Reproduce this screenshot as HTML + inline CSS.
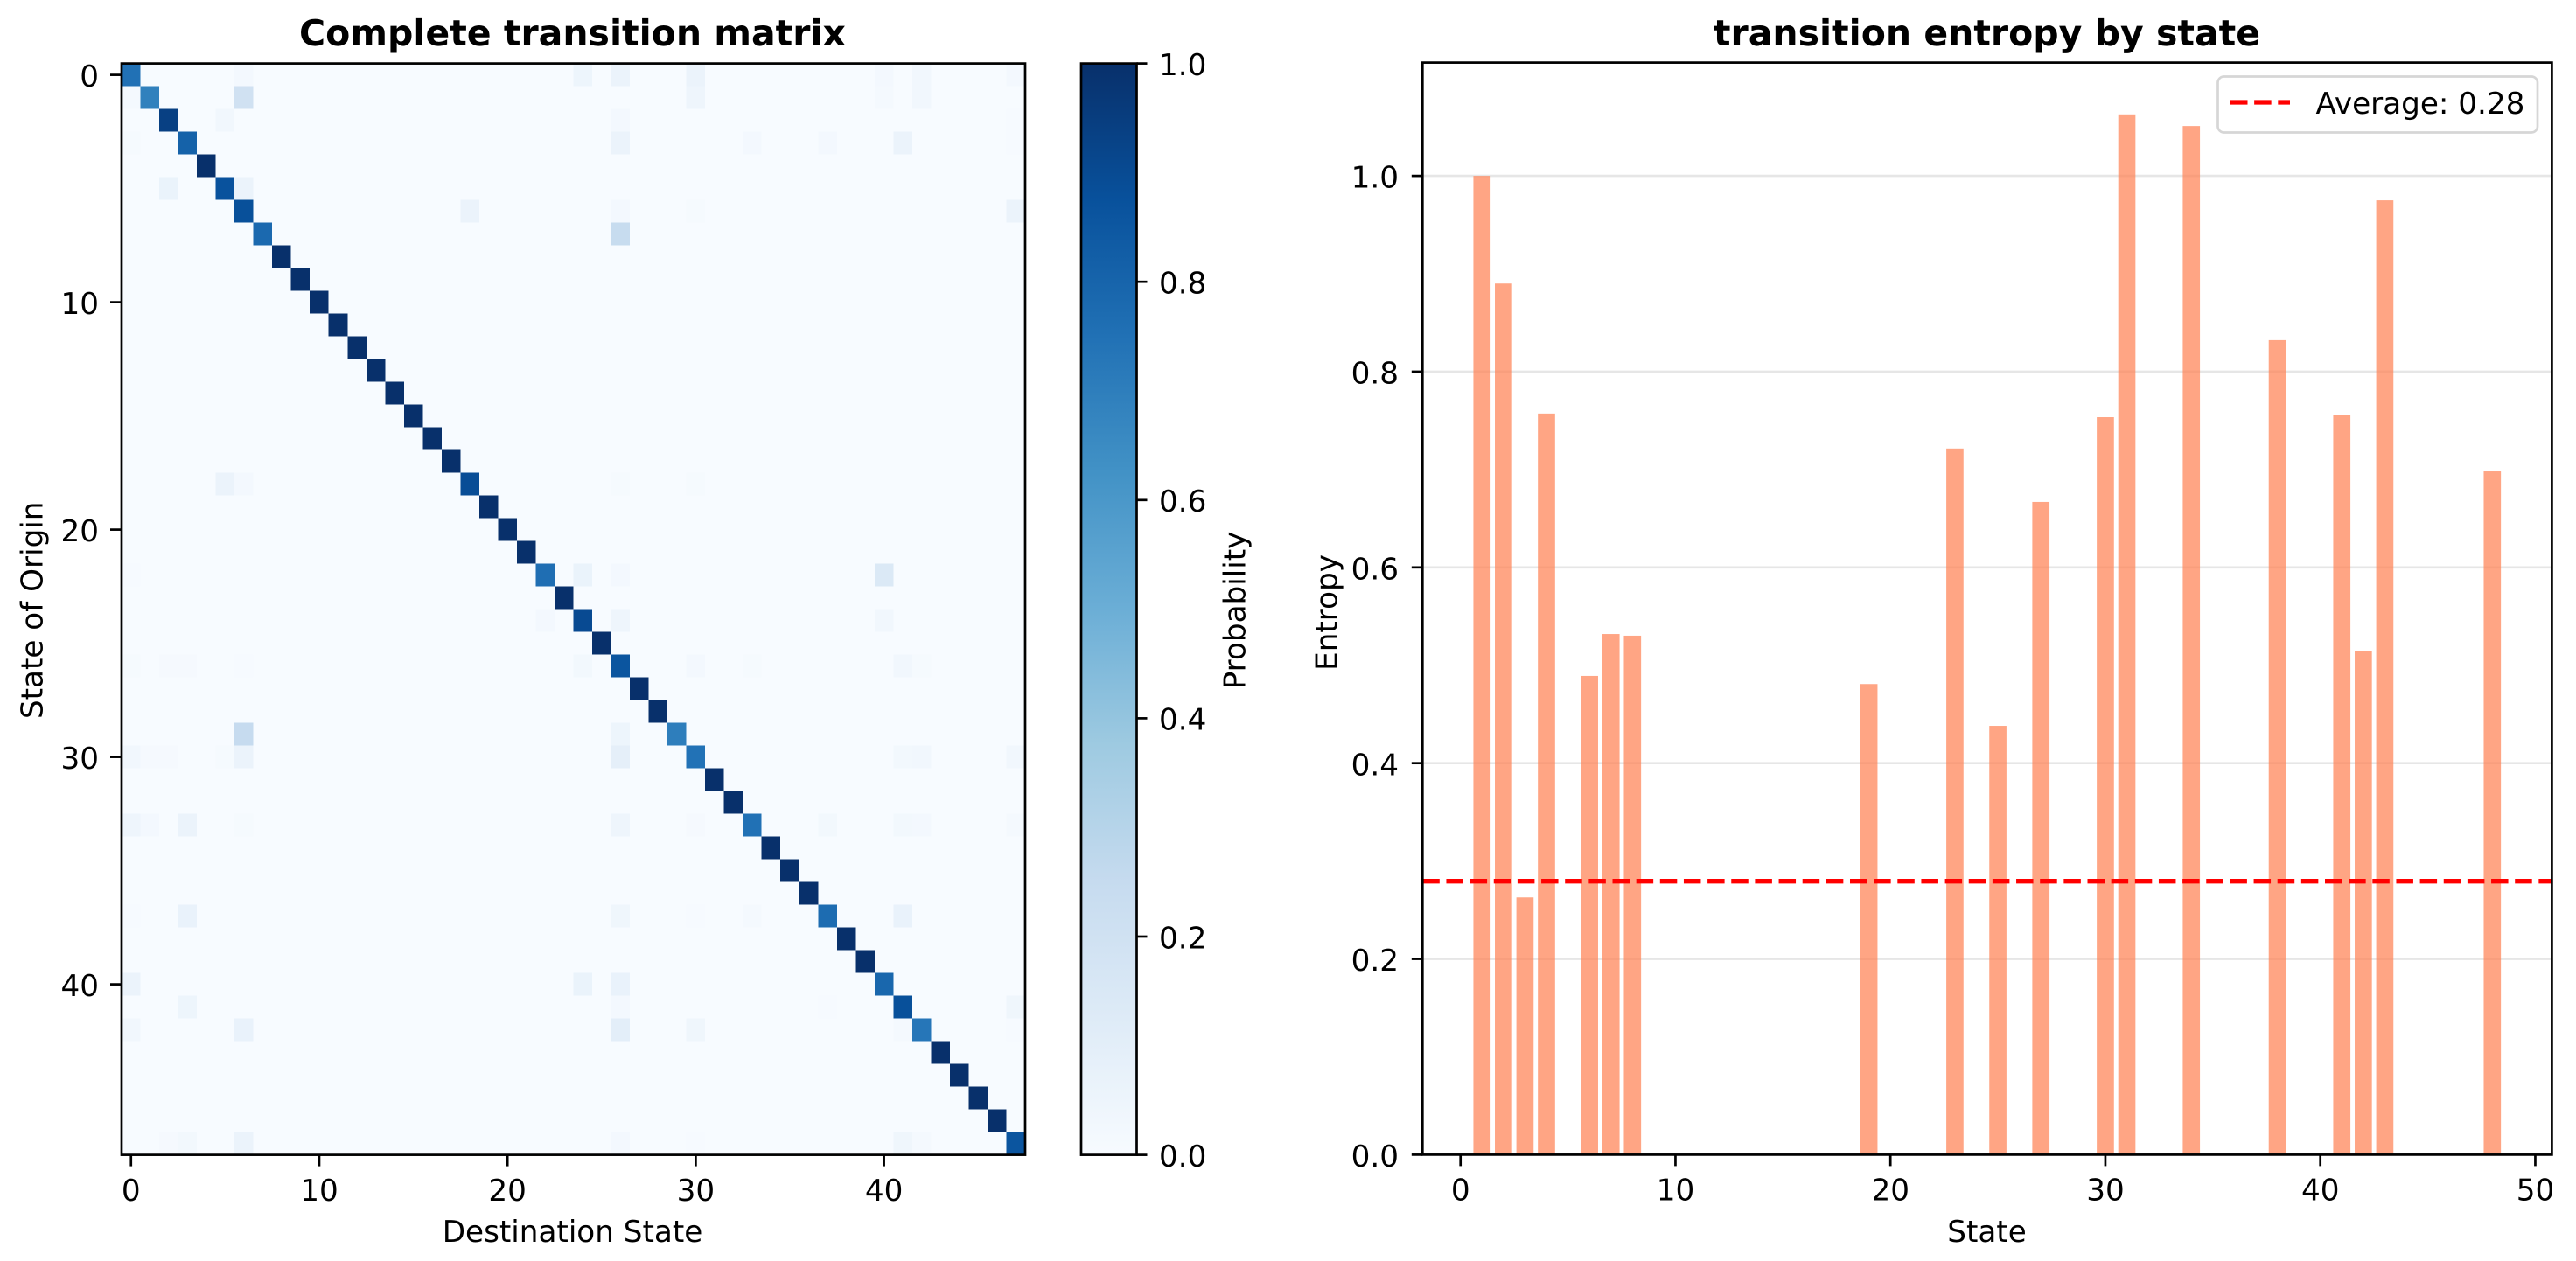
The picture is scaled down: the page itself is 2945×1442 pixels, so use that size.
<!DOCTYPE html>
<html lang="en">
<head>
<meta charset="utf-8">
<title>Transition matrix and entropy</title>
<style>
  html, body { margin: 0; padding: 0; background: #fff; }
  svg { display: block; }
  text { font-family: "DejaVu Sans", "Liberation Sans", sans-serif; font-size: 34.2px; fill: #000; text-rendering: geometricPrecision; }
  .title { font-size: 41px; font-weight: bold; text-anchor: middle; }
  .axis-title { text-anchor: middle; }
</style>
</head>
<body>
<svg id="figure" xmlns="http://www.w3.org/2000/svg" width="2945" height="1442" viewBox="0 0 2945 1442">
  <defs>
    <linearGradient id="blues-gradient" x1="0" y1="1" x2="0" y2="0">
      <stop offset="0" stop-color="#f7fbff"/>
      <stop offset="0.125" stop-color="#deebf7"/>
      <stop offset="0.25" stop-color="#c6dbef"/>
      <stop offset="0.375" stop-color="#9ecae1"/>
      <stop offset="0.5" stop-color="#6baed6"/>
      <stop offset="0.625" stop-color="#4292c6"/>
      <stop offset="0.75" stop-color="#2171b5"/>
      <stop offset="0.875" stop-color="#08519c"/>
      <stop offset="1" stop-color="#08306b"/>
    </linearGradient>
  </defs>
  <rect x="0" y="0" width="2945" height="1442" fill="#ffffff"/>

  <g id="heatmap-panel">
    <text class="title" x="654.5" y="52">Complete transition matrix</text>
    <rect x="139" y="72.6" width="1033" height="1248" fill="#f7fbff"/>
    <g id="heatmap-cells" shape-rendering="crispEdges"></g>
    <g id="heatmap-ticks"></g>
    <rect x="139" y="72.6" width="1033" height="1248" fill="none" stroke="#000" stroke-width="2.7"/>
    <text class="axis-title" x="654.5" y="1420">Destination State</text>
    <text class="axis-title" transform="translate(48.6 697.8) rotate(-90)">State of Origin</text>
  </g>

  <g id="colorbar-panel">
    <rect x="1236" y="72.6" width="63.5" height="1248" fill="url(#blues-gradient)"/>
    <g id="colorbar-ticks"></g>
    <rect x="1236" y="72.6" width="63.5" height="1248" fill="none" stroke="#000" stroke-width="2.7"/>
    <text class="axis-title" transform="translate(1423.5 698) rotate(-90)">Probability</text>
  </g>

  <g id="entropy-panel">
    <text class="title" x="2271.5" y="52">transition entropy by state</text>
    <g id="entropy-grid"></g>
    <g id="entropy-bars"></g>
    <line id="average-line" stroke="#ff0000" stroke-width="5.3" stroke-dasharray="19.5 7.65"/>
    <g id="entropy-ticks"></g>
    <rect x="1626.3" y="71.6" width="1291.1" height="1248.8" fill="none" stroke="#000" stroke-width="2.7"/>
    <text class="axis-title" x="2271.5" y="1420">State</text>
    <text class="axis-title" transform="translate(1528.6 700.5) rotate(-90)">Entropy</text>
    <g id="legend">
      <rect x="2535.5" y="87.5" width="365.5" height="64" rx="7" ry="7" fill="#ffffff" fill-opacity="0.8" stroke="#d6d6d6" stroke-width="2.7"/>
      <line x1="2550" y1="117" x2="2618" y2="117" stroke="#ff0000" stroke-width="5.3" stroke-dasharray="19.5 7.65"/>
      <text id="legend-label" x="2647.5" y="130">Average: 0.28</text>
    </g>
  </g>
</svg>

<script>
// ---- Heatmap data ----
const stateCount = 48;
const diagonalValues = [
  0.75, 0.69, 0.94, 0.81, 1, 0.87, 0.88, 0.78, 1, 1,
  1, 1, 1, 1, 1, 1, 1, 1, 0.89, 1,
  1, 1, 0.76, 1, 0.9, 1, 0.86, 1, 1, 0.7,
  0.745, 1, 1, 0.75, 1, 1, 1, 0.77, 1, 1,
  0.79, 0.88, 0.73, 1, 1, 1, 1, 0.86
];
const offRows = [0, 1, 2, 3, 5, 6, 7, 18, 22, 24, 26, 29, 30, 33, 37, 40, 41, 42, 47];
const offCols = [
  [6, 24, 26, 30, 40, 42, 47],
  [0, 6, 30, 40, 42],
  [5, 26, 47],
  [0, 26, 33, 37, 41, 47],
  [2, 6],
  [18, 26, 30, 47],
  [26],
  [5, 6, 26, 30],
  [0, 24, 26, 40],
  [22, 26, 40],
  [0, 2, 3, 6, 24, 30, 33, 41, 42],
  [6, 26],
  [0, 1, 2, 5, 6, 26, 41, 42, 47],
  [0, 1, 3, 6, 26, 30, 37, 41, 42, 47],
  [0, 3, 26, 30, 33, 41],
  [0, 24, 26],
  [3, 26, 37, 47],
  [0, 6, 26, 30, 41, 47],
  [2, 3, 6, 26, 30, 41, 42]
];
const offValues = [
  [0.02, 0.05, 0.06, 0.06, 0.02, 0.03, 0.02],
  [0.015, 0.2, 0.045, 0.015, 0.03],
  [0.03, 0.02, 0.005],
  [0.01, 0.06, 0.02, 0.02, 0.06, 0.005],
  [0.065, 0.06],
  [0.06, 0.02, 0.008, 0.06],
  [0.245],
  [0.06, 0.02, 0.01, 0.008],
  [0.005, 0.065, 0.02, 0.14],
  [0.02, 0.045, 0.03],
  [0.008, 0.012, 0.012, 0.005, 0.025, 0.02, 0.008, 0.03, 0.01],
  [0.25, 0.05],
  [0.03, 0.012, 0.012, 0.01, 0.06, 0.09, 0.025, 0.03, 0.03],
  [0.045, 0.02, 0.06, 0.008, 0.045, 0.012, 0.025, 0.025, 0.02, 0.015],
  [0.005, 0.07, 0.04, 0.004, 0.015, 0.07],
  [0.06, 0.065, 0.07],
  [0.05, 0.02, 0.005, 0.04],
  [0.03, 0.07, 0.1, 0.04, 0.015, 0.005],
  [0.012, 0.025, 0.06, 0.02, 0.004, 0.04, 0.015]
];
const heatmapTicks = [0, 10, 20, 30, 40];
const colorbarTicks = [0, 0.2, 0.4, 0.6, 0.8, 1];
const bluesStops = ['#f7fbff', '#deebf7', '#c6dbef', '#9ecae1', '#6baed6', '#4292c6', '#2171b5', '#08519c', '#08306b'];

// ---- Entropy data (state 1 to 48) ----
const entropyValues = [
  1.0, 0.89, 0.2628, 0.7572, 0, 0.4891, 0.5319, 0.5302, 0, 0,
  0, 0, 0, 0, 0, 0, 0, 0, 0.4808, 0,
  0, 0, 0.7215, 0, 0.4381, 0, 0.6669, 0, 0, 0.7535,
  1.0628, 0, 0, 1.0509, 0, 0, 0, 0.8322, 0, 0,
  0.7555, 0.5142, 0.975, 0, 0, 0, 0, 0.6981
];
const entropyXTicks = [0, 10, 20, 30, 40, 50];
const entropyYTicks = [0, 0.2, 0.4, 0.6, 0.8, 1];

// ---- Layout and axis functions ----
const SVG_NS = 'http://www.w3.org/2000/svg';
const heatLeft = 139, heatTop = 72.6, heatWidth = 1033, heatHeight = 1248;
const cbLeft = 1236, cbRight = 1299.5;
const entLeft = 1626.3, entRight = 2917.4, entTop = 71.6, entBottom = 1320.4;
const tickStroke = 2.7;

const heatCellW = heatWidth / stateCount;
const heatCellH = heatHeight / stateCount;
function heatX(col) { return heatLeft + (col + 0.5) * heatCellW; }
function heatY(row) { return heatTop + (row + 0.5) * heatCellH; }
function colorbarY(v) { return heatTop + heatHeight - v * heatHeight; }
function entX(v) { return 1669.7 + v * 24.575; }
function entY(v) { return entBottom - v * 1119.3; }

function hexToRgb(h) {
  return [parseInt(h.slice(1, 3), 16), parseInt(h.slice(3, 5), 16), parseInt(h.slice(5, 7), 16)];
}
function blues(v) {
  const t = Math.max(0, Math.min(1, v)) * (bluesStops.length - 1);
  const i = Math.min(Math.floor(t), bluesStops.length - 2);
  const a = hexToRgb(bluesStops[i]);
  const b = hexToRgb(bluesStops[i + 1]);
  const f = t - i;
  return 'rgb(' + [0, 1, 2].map(function (k) { return Math.round(a[k] + (b[k] - a[k]) * f); }).join(',') + ')';
}
function mk(tag, attrs, parent, txt) {
  const el = document.createElementNS(SVG_NS, tag);
  Object.keys(attrs).forEach(function (k) { el.setAttribute(k, attrs[k]); });
  if (txt !== undefined) el.textContent = txt;
  parent.appendChild(el);
  return el;
}

// ---- Heatmap cells ----
const cellsGroup = document.getElementById('heatmap-cells');
function drawCell(row, col, value, name) {
  const cell = mk('rect', {
    x: heatX(col) - heatCellW / 2,
    y: heatY(row) - heatCellH / 2,
    width: heatCellW,
    height: heatCellH,
    fill: blues(value)
  }, cellsGroup);
  
  
}
offRows.forEach(function (row, r) {
  offCols[r].forEach(function (col, c) {
    drawCell(row, col, offValues[r][c], 'heatmap-cell-off-diagonal');
  });
});
diagonalValues.forEach(function (value, i) {
  drawCell(i, i, value, 'heatmap-cell-diagonal');
});

// ---- Heatmap ticks ----
const heatTicksGroup = document.getElementById('heatmap-ticks');
heatmapTicks.forEach(function (t) {
  const xTick = mk('line', { x1: heatX(t), x2: heatX(t), y1: heatTop + heatHeight, y2: heatTop + heatHeight + 13, stroke: '#000', 'stroke-width': tickStroke }, heatTicksGroup);
  
  
  const xLabel = mk('text', { x: heatX(t), y: 1373, 'text-anchor': 'middle' }, heatTicksGroup, String(t));
  
  
  const yTick = mk('line', { x1: heatLeft - 13, x2: heatLeft, y1: heatY(t), y2: heatY(t), stroke: '#000', 'stroke-width': tickStroke }, heatTicksGroup);
  
  
  const yLabel = mk('text', { x: 113, y: heatY(t) + 13.3, 'text-anchor': 'end' }, heatTicksGroup, String(t));
  
  
});

// ---- Colorbar ticks ----
const cbTicksGroup = document.getElementById('colorbar-ticks');
colorbarTicks.forEach(function (t) {
  const tick = mk('line', { x1: cbRight, x2: cbRight + 12, y1: colorbarY(t), y2: colorbarY(t), stroke: '#000', 'stroke-width': tickStroke }, cbTicksGroup);
  
  
  const label = mk('text', { x: 1325, y: colorbarY(t) + 13.3 }, cbTicksGroup, t.toFixed(1));
  
  
});

// ---- Entropy chart ----
const gridGroup = document.getElementById('entropy-grid');
const barsGroup = document.getElementById('entropy-bars');
const entTicksGroup = document.getElementById('entropy-ticks');

entropyYTicks.forEach(function (t) {
  if (t > 0) {
    const grid = mk('line', { x1: entLeft, x2: entRight, y1: entY(t), y2: entY(t), stroke: '#e6e6e6', 'stroke-width': 2.6 }, gridGroup);
    
    
  }
  const tick = mk('line', { x1: entLeft - 12.5, x2: entLeft, y1: entY(t), y2: entY(t), stroke: '#000', 'stroke-width': tickStroke }, entTicksGroup);
  
  
  const label = mk('text', { x: 1599, y: entY(t) + 13.6, 'text-anchor': 'end' }, entTicksGroup, t.toFixed(1));
  
  
});

entropyXTicks.forEach(function (t) {
  const tick = mk('line', { x1: entX(t), x2: entX(t), y1: entBottom, y2: entBottom + 13, stroke: '#000', 'stroke-width': tickStroke }, entTicksGroup);
  
  
  const label = mk('text', { x: entX(t), y: 1372.5, 'text-anchor': 'middle' }, entTicksGroup, String(t));
  
  
});

entropyValues.forEach(function (value, i) {
  const state = i + 1;
  const barWidth = entX(0.8) - entX(0);
  const bar = mk('rect', {
    x: entX(state) - barWidth / 2,
    y: entY(value),
    width: barWidth,
    height: entBottom - entY(value),
    fill: '#ff7f50',
    'fill-opacity': 0.7
  }, barsGroup);
  
  
});

const averageEntropy = entropyValues.reduce(function (a, b) { return a + b; }, 0) / entropyValues.length;
const averageLine = document.getElementById('average-line');
averageLine.setAttribute('x1', entLeft);
averageLine.setAttribute('x2', entRight);
averageLine.setAttribute('y1', entY(averageEntropy));
averageLine.setAttribute('y2', entY(averageEntropy));
document.getElementById('legend-label').textContent = 'Average: ' + averageEntropy.toFixed(2);
</script>
</body>
</html>
